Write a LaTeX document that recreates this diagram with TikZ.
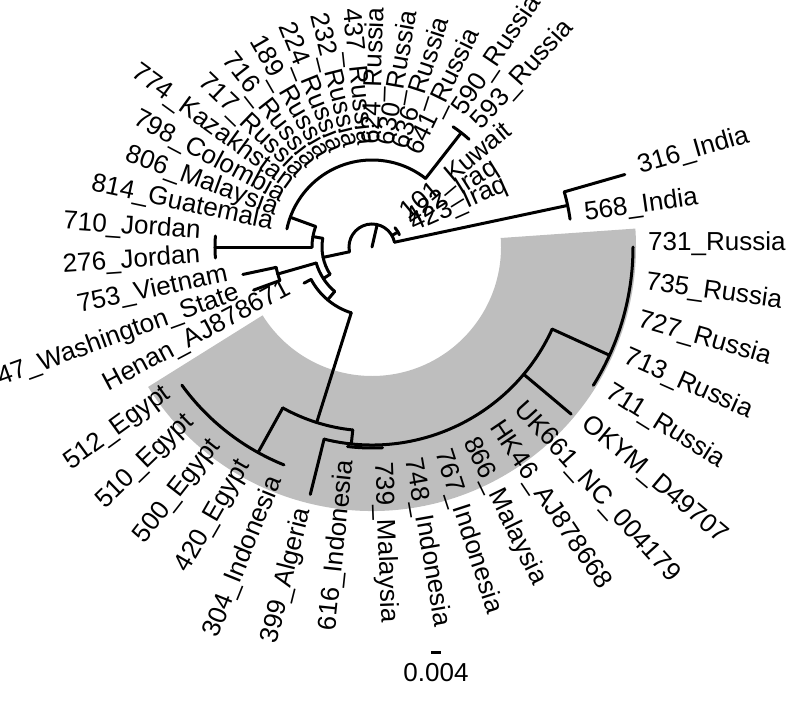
\documentclass[tikz,border=0pt]{standalone}
\usepackage{fontspec}
\setmainfont{Liberation Sans}
\definecolor{cladegray}{RGB}{190,190,190}
% radial branch: angle, inner radius, outer radius
\newcommand{\treestem}[3]{\draw[branch] (#1:#2) -- (#1:#3);}
% node arc: radius, first angle, last angle
\newcommand{\treefork}[3]{\draw[branch] (#2:#1) arc[start angle=#2, end angle=#3, radius=#1];}

\begin{document}
\begin{tikzpicture}[x=1pt, y=1pt,
  branch/.style={line width=3pt, line cap=round},
  tiplab/.style={inner sep=0pt, font=\fontsize{26}{31}\selectfont, text height=0.72em, text depth=0pt}]
\useasboundingbox (-372,-468) rectangle (414,247);

% highlighted clade
\fill[cladegray] (4:129) arc[start angle=4, end angle=-148, radius=129]
  -- (-148:264) arc[start angle=-148, end angle=4, radius=264] -- cycle;

% root
\treestem{77}{0}{23}
\treefork{23}{12}{192}
% India
\treestem{12}{23}{200}
\treefork{200}{8}{16}
\treestem{16}{200}{263}
% Kuwait, Iraq
\treestem{30}{23}{30}
\treefork{30}{24}{40}
% left clade
\treestem{192}{23}{50}
\treefork{50}{170}{213}
\treestem{170}{50}{60}
\treefork{60}{160}{180}
% Russia, Kazakhstan, Colombia ...
\treestem{160}{60}{87}
\treefork{87}{52}{168}
\treestem{52}{87}{145}
\treefork{145}{48}{56}
% Jordan
\treestem{180}{60}{157}
\treefork{157}{176}{184}
% Vietnam, Washington, Henan and the grey clade
\treestem{213}{50}{58}
\treefork{58}{196}{230}
\treestem{196}{58}{98}
\treefork{98}{192}{200}
\treestem{192}{98}{132}
\treestem{200}{98}{126}
\treestem{230}{58}{69}
\treefork{69}{208}{252.5}
\treestem{208}{69}{77}
\treestem{-107.5}{69}{184}
\treefork{184}{-119}{-96}
% Egypt
\treestem{-119}{184}{235}
\treefork{235}{-144}{-112}
% Indonesia, Malaysia, Russia
\treestem{-96}{184}{198}
\treefork{198}{-104}{-24.5}
\treefork{201}{-97}{-87}
\treestem{-104}{198}{255}
\treestem{-40}{198}{260}
\treestem{-24.5}{198}{261}
\treefork{261}{-32}{0}

% tip labels
\foreach \ang/\rad/\txt [count=\i] in {
  16/263/316\_India, 8/200/568\_India, 0/261/731\_Russia, -8/261/735\_Russia,
  -16/261/727\_Russia, -24/261/713\_Russia, -32/261/711\_Russia, -40/260/OKYM\_D49707,
  -48/201/UK661\_NC\_004179, -56/200/HK46\_AJ878668, -64/200/866\_Malaysia,
  -72/200/767\_Indonesia, -80/200/748\_Indonesia, -88/200/739\_Malaysia,
  -96/200/616\_Indonesia, -104/255/399\_Algeria, -112/235/304\_Indonesia,
  -120/235/420\_Egypt, -128/235/500\_Egypt, -136/235/510\_Egypt, -144/235/512\_Egypt,
  -152/77/Henan\_AJ878671, -160/126/47\_Washington\_State, -168/132/753\_Vietnam,
  -176/157/276\_Jordan, 176/157/710\_Jordan, 168/87/814\_Guatemala, 160/87/806\_Malaysia,
  152/87/798\_Colombia, 144/87/774\_Kazakhstan, 136/87/717\_Russia, 128/87/716\_Russia,
  120/87/189\_Russia, 112/87/224\_Russia, 104/87/232\_Russia, 96/87/437\_Russia,
  88/87/624\_Russia, 80/87/630\_Russia, 72/87/636\_Russia, 64/87/641\_Russia,
  56/145/590\_Russia, 48/145/593\_Russia, 40/30/101\_Kuwait, 32/30/422\_Iraq, 24/30/423\_Iraq}{
  \pgfmathtruncatemacro\rside{cos(\ang)>0}
  \ifnum\rside=1
    \node[tiplab, anchor=west, rotate=\ang] (tip\i) at (\ang:\rad+15) {\txt};
  \else
    \node[tiplab, anchor=east, rotate=\ang-180] (tip\i) at (\ang:\rad+15) {\txt};
  \fi
}

% scale bar
\coordinate (sb0) at (59,-405);
\coordinate (sb1) at (69,-405);
\draw[line width=3pt] (sb0) -- (sb1);
\node[tiplab] (sblab) at (64,-431) {0.004};
\end{tikzpicture}
\end{document}
